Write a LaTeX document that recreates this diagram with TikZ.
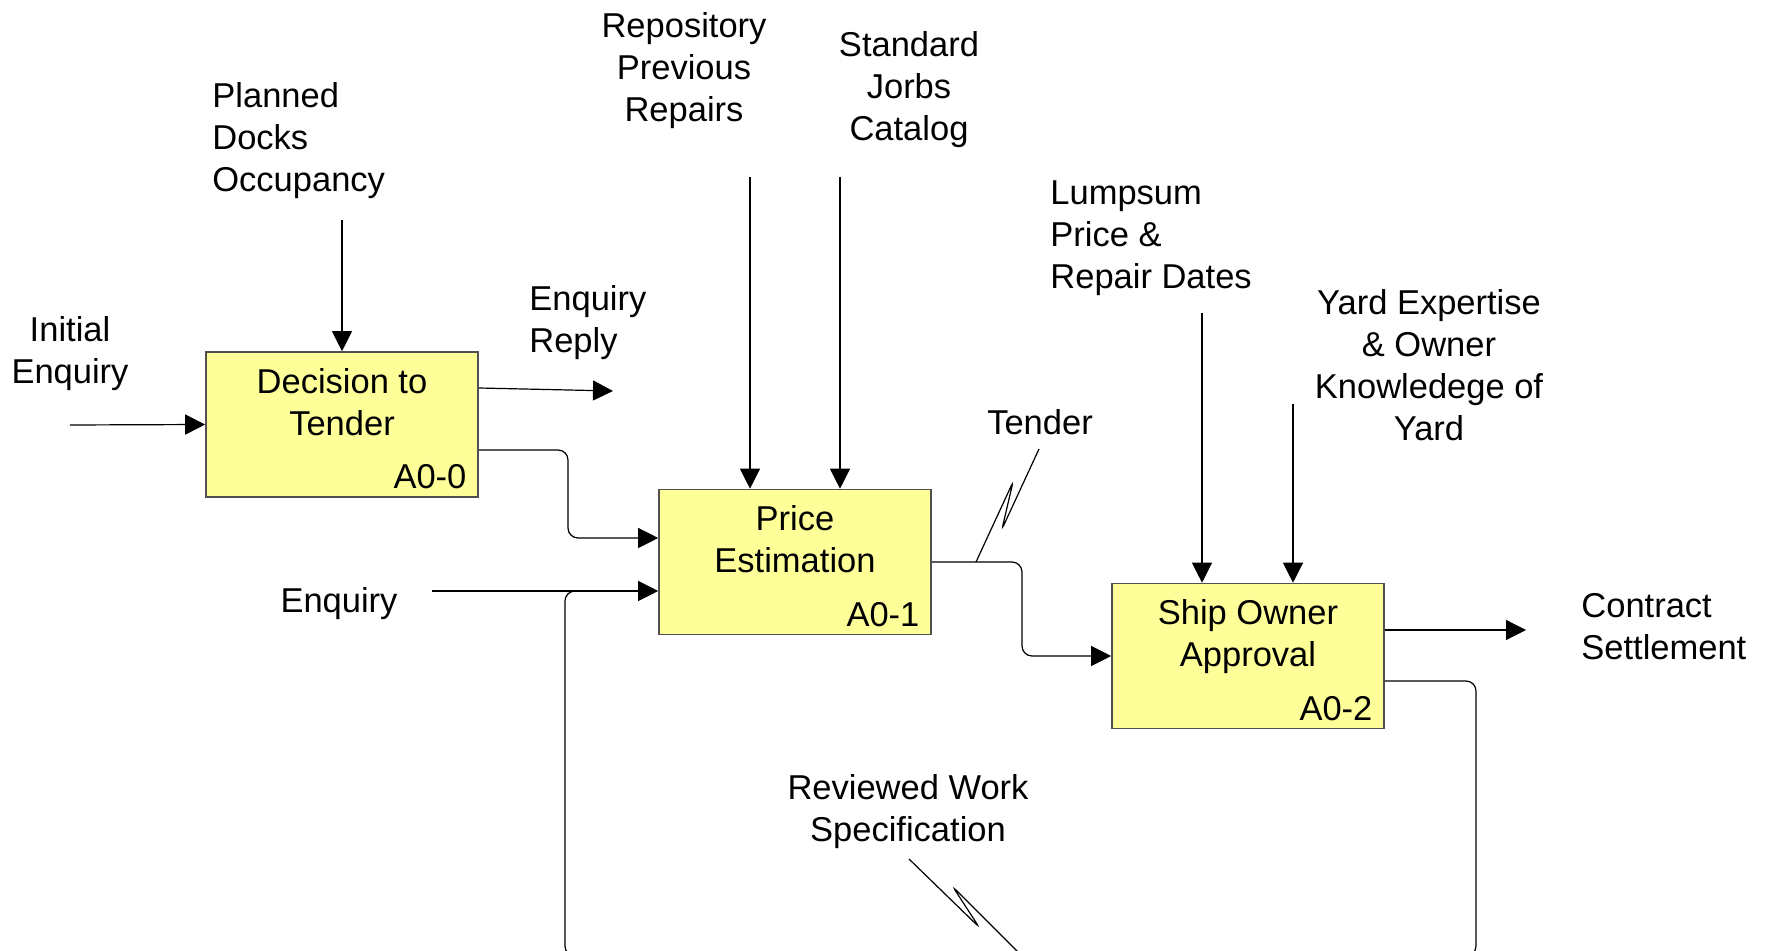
\documentclass[tikz,border=0pt]{standalone}
\usepackage{fontspec}
\setmainfont{Liberation Sans}
\usetikzlibrary{arrows.meta,calc}
\definecolor{boxfill}{RGB}{255,255,153}
\definecolor{boxline}{RGB}{80,80,80}
\begin{document}
\begin{tikzpicture}[x=0.5pt,y=-0.5pt,
  every node/.style={font=\fontsize{17.25}{21}\selectfont, inner sep=0pt, text depth=0pt},
  actbox/.style={draw=boxline, fill=boxfill, line width=0.8pt, minimum width=136pt, minimum height=72.5pt},
  flow/.style={draw=black, line width=0.6pt, -{Triangle[length=10pt,width=10pt]}},
  conn/.style={draw=black, line width=0.6pt},
  rc/.style={rounded corners=5pt}]
\useasboundingbox (0,0) rectangle (1768,951);
\clip (0,0) rectangle (1768,951);

% activity boxes
\node[actbox] (A00) at (342,424.5) {};
\node[actbox] (A01) at (795,562) {};
\node[actbox] (A02) at (1248,656) {};
\node (A00t) [align=center] at ($(A00.north)+(0,50.5)$) {Decision to\\Tender};
\node (A01t) [align=center] at ($(A01.north)+(0,50.5)$) {Price\\Estimation};
\node (A02t) [align=center] at ($(A02.north)+(0,50.5)$) {Ship Owner\\Approval};
\node (A00id) [anchor=east] at ($(A00.south east)+(-12,-21)$) {A0-0};
\node (A01id) [anchor=east] at ($(A01.south east)+(-12,-21)$) {A0-1};
\node (A02id) [anchor=east] at ($(A02.south east)+(-12,-21)$) {A0-2};

% labels
\node (lInit) [align=center] at (70,350) {Initial\\Enquiry};
\node (lPlan) [align=left, anchor=west] at (212,137) {Planned\\Docks\\Occupancy};
\node (lRepo) [align=center] at (684,67) {Repository\\Previous\\Repairs};
\node (lStd) [align=center] at (909,86) {Standard\\Jorbs\\Catalog};
\node (lReply) [align=left, anchor=west] at (529,319) {Enquiry\\Reply};
\node (lEnq) at (339,600) {Enquiry};
\node (lTender) at (1040,422) {Tender};
\node (lLump) [align=left, anchor=west] at (1050,235) {Lumpsum\\Price \&\\Repair Dates};
\node (lYard) [align=center] at (1429,365) {Yard Expertise\\\& Owner\\Knowledege of\\Yard};
\node (lContract) [align=left, anchor=west] at (1581,626) {Contract\\Settlement};
\node (lRev) [align=center] at (908,808) {Reviewed Work\\Specification};

% connectors
\coordinate (cInit) at (70,425);
\draw[flow] (cInit) -- (A00.west);
\coordinate (cPlan) at (342,220);
\draw[flow] (cPlan) -- (A00.north);
\coordinate (cReply) at (613,391);
\draw[flow] (A00.east |- 0,388) -- (cReply);
\draw[flow, rc] (A00.east |- 0,450) -- (568,450) -- (568,538) -- (A01.west |- 0,538);
\coordinate (cEnq) at (432,591);
\draw[flow] (cEnq) -- (A01.west |- 0,591);
\draw[conn, rc] (A02.east |- 0,681) -- (1476,681) -- (1476,956) -- (565,956) -- (565,591) -- (620,591);
\coordinate (cRepo) at (750,177);
\draw[flow] (cRepo) -- (cRepo |- A01.north);
\coordinate (cStd) at (840,177);
\draw[flow] (cStd) -- (cStd |- A01.north);
\draw[flow, rc] (A01.east) -- (1022,562) -- (1022,656) -- (A02.west);
\coordinate (cLump) at (1202,313);
\draw[flow] (cLump) -- (cLump |- A02.north);
\coordinate (cYard) at (1293,404);
\draw[flow] (cYard) -- (cYard |- A02.north);
\coordinate (cCon) at (1526,630);
\draw[flow] (A02.east |- 0,630) -- (cCon);

% squiggles
\coordinate (sqT0) at (976,562);
\coordinate (sqT1) at (1039,449);
\draw[conn, rounded corners=2pt] (sqT0) -- (1013,482) -- (1002,529) -- (sqT1);
\coordinate (sqR0) at (909,859);
\coordinate (sqR1) at (1022,956);
\draw[conn, rounded corners=2pt] (sqR0) -- (979,927) -- (953,887) -- (sqR1);
\end{tikzpicture}
\end{document}
